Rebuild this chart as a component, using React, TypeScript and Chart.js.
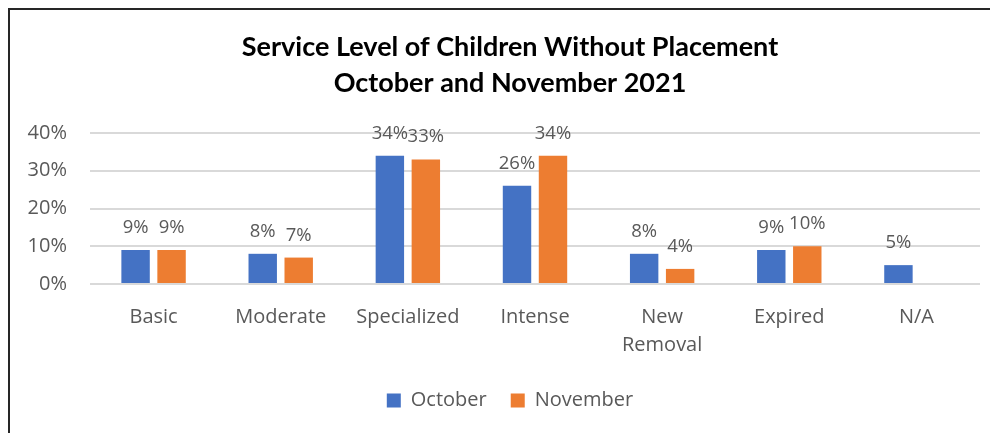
import React, { useEffect, useRef } from "react";
import { Chart, registerables } from "chart.js";

Chart.register(...registerables);

const titleLines = ["Service Level of Children Without Placement", "October and November 2021"];
const categories: (string | string[])[] = ["Basic", "Moderate", "Specialized", "Intense", ["New", "Removal"], "Expired", "N/A"];
const seriesNames = ["October", "November"];
const october: (number | null)[] = [9, 8, 34, 26, 8, 9, 5];
const november: (number | null)[] = [9, 7, 33, 34, 4, 10, null];
const seriesColors = ["#4472C4", "#ED7D31"];
const yTicks = [0, 10, 20, 30, 40];

const TEXT_GRAY = "#595959";
const FONT = "'Open Sans', 'Noto Sans', sans-serif";

const dataLabelPlugin = {
  id: "dataLabels",
  afterDatasetsDraw(chart: any) {
    const ctx = chart.ctx;
    ctx.save();
    ctx.font = `18.5px ${FONT}`;
    ctx.fillStyle = TEXT_GRAY;
    ctx.textAlign = "center";
    ctx.textBaseline = "alphabetic";
    chart.data.datasets.forEach((ds: any, di: number) => {
      const meta = chart.getDatasetMeta(di);
      meta.data.forEach((bar: any, i: number) => {
        const v = ds.data[i];
        if (v === null || v === undefined) return;
        ctx.fillText(`${v}%`, bar.x, bar.y - 17);
      });
    });
    ctx.restore();
  },
};

export default function App() {
  const ref = useRef<HTMLCanvasElement>(null);
  useEffect(() => {
    document.documentElement.style.overflow = "hidden";
    document.body.style.overflow = "hidden";
    const chart = new Chart(ref.current!, {
      type: "bar",
      data: {
        labels: categories,
        datasets: [
          { label: seriesNames[0], data: october, backgroundColor: seriesColors[0], categoryPercentage: 0.566, barPercentage: 0.79 },
          { label: seriesNames[1], data: november, backgroundColor: seriesColors[1], categoryPercentage: 0.566, barPercentage: 0.79 },
        ],
      },
      options: {
        responsive: false,
        maintainAspectRatio: false,
        animation: false,
        layout: { padding: { left: 0, right: 0, top: 0, bottom: 19.5 } },
        plugins: {
          title: {
            display: true,
            text: titleLines,
            color: "#000000",
            font: { family: "Lato, 'Open Sans', sans-serif", size: 27, weight: "bold", lineHeight: 1.315 },
            padding: { top: 20, bottom: 32 },
          },
          legend: {
            display: true,
            position: "bottom",
            labels: {
              boxWidth: 14,
              boxHeight: 14,
              padding: 24,
              color: TEXT_GRAY,
              font: { family: FONT, size: 20 },
            },
          },
          tooltip: { enabled: false },
        },
        scales: {
          x: {
            grid: { display: false, drawTicks: false },
            border: { display: false },
            ticks: {
              color: TEXT_GRAY,
              font: { family: FONT, size: 20, lineHeight: 1.4 },
              padding: 19,
              maxRotation: 0,
              autoSkip: false,
            },
            afterFit(s: any) {
              s.height = 82.5;
            },
          },
          y: {
            min: yTicks[0],
            max: yTicks[yTicks.length - 1],
            grid: { color: "#D9D9D9", lineWidth: 2, drawTicks: false },
            border: { display: false },
            ticks: {
              stepSize: 10,
              color: TEXT_GRAY,
              font: { family: FONT, size: 20 },
              padding: 23,
              callback: (v: any) => `${v}%`,
            },
            afterFit(s: any) {
              s.width = 80;
            },
          },
          yRightSpace: {
            type: "linear",
            position: "right",
            display: true,
            grid: { display: false, drawTicks: false },
            border: { display: false },
            ticks: { display: false },
            afterFit(s: any) {
              s.width = 30;
            },
          },
        },
      },
      plugins: [dataLabelPlugin],
    } as any);
    return () => chart.destroy();
  }, []);

  return (
    <div style={{ border: "2px solid #262626", width: 1000, height: 430, background: "#fff" }}>
      <canvas ref={ref} width={1000} height={430} style={{ display: "block", width: 1000, height: 430 }} />
    </div>
  );
}
